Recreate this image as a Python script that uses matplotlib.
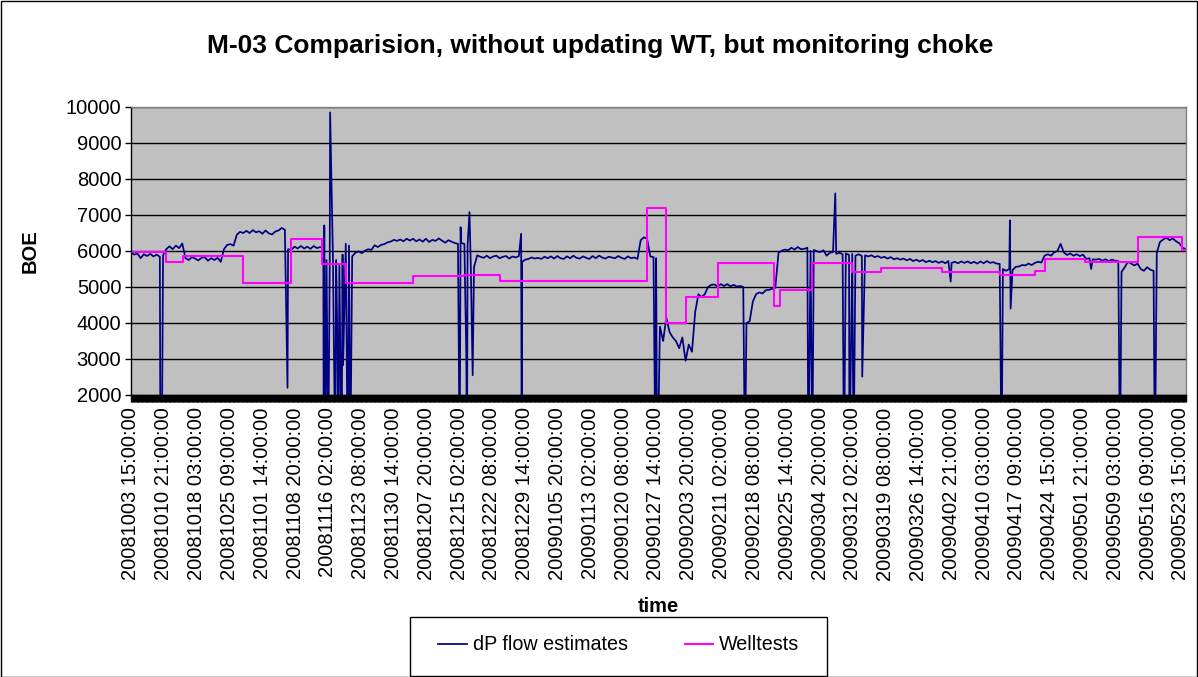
import numpy as np
import matplotlib.pyplot as plt
from matplotlib.patches import Rectangle
from matplotlib.ticker import MultipleLocator
from matplotlib.lines import Line2D

plt.rcParams['font.family'] = ['Liberation Sans', 'DejaVu Sans']

# x axis: hours since 20081003 15:00, one label every 174 h
label_step = 174
tick_labels = [
    "20081003 15:00:00", "20081010 21:00:00", "20081018 03:00:00", "20081025 09:00:00",
    "20081101 14:00:00", "20081108 20:00:00", "20081116 02:00:00", "20081123 08:00:00",
    "20081130 14:00:00", "20081207 20:00:00", "20081215 02:00:00", "20081222 08:00:00",
    "20081229 14:00:00", "20090105 20:00:00", "20090113 02:00:00", "20090120 08:00:00",
    "20090127 14:00:00", "20090203 20:00:00", "20090211 02:00:00", "20090218 08:00:00",
    "20090225 14:00:00", "20090304 20:00:00", "20090312 02:00:00", "20090319 08:00:00",
    "20090326 14:00:00", "20090402 21:00:00", "20090410 03:00:00", "20090417 09:00:00",
    "20090424 15:00:00", "20090501 21:00:00", "20090509 03:00:00", "20090516 09:00:00",
    "20090523 15:00:00",
]

# dP flow estimates, one value every 17 h
dp_step = 17
dp_values = [
    5950, 5900, 5930, 5800, 5910, 5860, 5920, 5850, 5900, 5840,
    5880, 6050, 6130, 6050, 6150, 6080, 6210, 5800, 5750, 5830,
    5790, 5740, 5810, 5830, 5730, 5800, 5750, 5810, 5700, 6050,
    6170, 6190, 6150, 6450, 6530, 6500, 6560, 6500, 6580, 6520,
    6550, 6480, 6570, 6490, 6460, 6540, 6570, 6640, 6590, 6050,
    6030, 6120, 6070, 6140, 6070, 6120, 6060, 6140, 6080, 6110,
    6080, 5750, 5720, 5800, 5750, 5600, 5900, 6200, 6150, 5850,
    5950, 5990, 5940, 6010, 6050, 6030, 6160, 6110, 6170, 6190,
    6240, 6260, 6310, 6280, 6320, 6270, 6340, 6290, 6340, 6270,
    6320, 6260, 6340, 6250, 6310, 6280, 6350, 6290, 6230, 6300,
    6260, 6220, 6200, 6220, 6200, 6150, 5600, 5550, 5880, 5840,
    5810, 5870, 5800, 5850, 5870, 5800, 5840, 5860, 5790, 5850,
    5820, 5860, 5700, 5760, 5780, 5820, 5790, 5810, 5780, 5840,
    5800, 5850, 5790, 5860, 5800, 5780, 5850, 5800, 5870, 5810,
    5790, 5850, 5810, 5780, 5860, 5800, 5870, 5820, 5790, 5840,
    5820, 5800, 5860, 5810, 5780, 5850, 5800, 5820, 5780, 6300,
    6380, 6340, 5850, 5830, 2300, 3900, 3500, 4150, 3750, 3600,
    3500, 3300, 3600, 2950, 3400, 3200, 4300, 4800, 4720, 4800,
    5000, 5060, 5070, 5010, 5080, 5030, 5080, 5020, 5060, 5010,
    5030, 5000, 4000, 4050, 4600, 4800, 4850, 4820, 4910, 4920,
    4950, 4980, 5950, 6010, 6040, 6020, 6090, 6040, 6110, 6050,
    6060, 6090, 6000, 6030, 5990, 5970, 6020, 5870, 5950, 5970,
    5920, 5950, 5910, 5930, 5890, 5920, 5870, 5910, 5860, 5880,
    5850, 5880, 5830, 5860, 5810, 5840, 5790, 5830, 5770, 5800,
    5760, 5790, 5740, 5780, 5720, 5760, 5710, 5750, 5690, 5730,
    5690, 5720, 5670, 5710, 5660, 5720, 5670, 5700, 5660, 5710,
    5670, 5710, 5660, 5700, 5650, 5710, 5660, 5720, 5670, 5690,
    5650, 5640, 5500, 5450, 5500, 5470, 5560, 5570, 5610, 5600,
    5650, 5610, 5670, 5700, 5680, 5870, 5910, 5870, 5960, 6000,
    6200, 5960, 5890, 5930, 5870, 5910, 5860, 5900, 5780, 5800,
    5770, 5760, 5780, 5730, 5770, 5720, 5760, 5730, 5720, 5420,
    5550, 5700, 5650, 5600, 5650, 5500, 5450, 5550, 5480, 5450,
    5950, 6250, 6320, 6370, 6300, 6350, 6270, 6220, 6100, 6050, 6070,
]

# short spikes / dropouts in the dP estimates (hour, value)
spike_hours = [156, 163, 830, 1022, 1025, 1030, 1046, 1056, 1083, 1095, 1100,
               1117, 1125, 1149, 1163, 1743, 1748, 1778, 1782, 1795, 1812,
               2069, 2072, 2781, 2785, 2793, 3256, 3592, 3613, 3735, 3781,
               3810, 3832, 3878, 4347, 4617, 4661, 4665, 5092, 5245, 5430]
spike_values = [0, 0, 2200, 0, 6710, 0, 0, 9850, 0, 3380, 0,
                0, 2830, 0, 0, 0, 6660, 3160, 0, 7080, 2550,
                6480, 0, 0, 5800, 0, 0, 0, 0, 7600, 0,
                0, 0, 2510, 5150, 0, 6850, 4400, 5500, 0, 0]

# welltest results (start hour of each test, BOE)
wt_hours = [0, 185, 277, 595, 850, 1015, 1142, 1493, 1768, 1955, 2737, 2839,
            2941, 3111, 3410, 3443, 3613, 3825, 3978, 4301, 4607, 4794, 4845,
            5058, 5338, 5576, 5595]
wt_values = [5970, 5690, 5860, 5110, 6330, 5630, 5110, 5300, 5320, 5170, 7200, 3990,
             4720, 5660, 4470, 4910, 5660, 5420, 5520, 5420, 5340, 5440, 5770,
             5690, 6400, 6040, 6040]

dp_hours = np.arange(len(dp_values)) * dp_step
all_h = np.concatenate([dp_hours, spike_hours])
all_v = np.concatenate([dp_values, spike_values])
order = np.argsort(all_h, kind='stable')

W, H = 1198, 677
fig = plt.figure(figsize=(W / 100, H / 100), dpi=100)
ax = fig.add_axes([131 / W, 1 - 395 / H, (1186 - 131) / W, (395 - 107) / H])
ax.set_facecolor('#C0C0C0')

ax.plot(all_h[order], all_v[order], color='#000080', lw=1.25, label='dP flow estimates')
ax.plot(wt_hours, wt_values, color='#FF00FF', lw=1.5, drawstyle='steps-post', label='Welltests')

ax.set_xlim(0, 5595)
ax.set_ylim(2000, 10000)
ax.set_yticks(range(2000, 10001, 1000))
ax.yaxis.grid(True, color='black', lw=1.0)
ax.set_axisbelow(True)

ax.set_xticks(np.arange(len(tick_labels)) * label_step)
ax.set_xticklabels(tick_labels, rotation=90, fontsize=14.5)
ax.xaxis.set_minor_locator(MultipleLocator(label_step / 40))
ax.tick_params(axis='x', which='both', direction='out', length=5, width=1.0,
               color='black', pad=4)
ax.tick_params(axis='y', direction='out', length=4, width=1.0, labelsize=14.5, pad=3)

for s in ['top', 'right']:
    ax.spines[s].set_color('#808080')
    ax.spines[s].set_linewidth(1.0)
for s in ['left', 'bottom']:
    ax.spines[s].set_color('black')
    ax.spines[s].set_linewidth(1.0)

ax.set_ylabel('BOE', fontsize=14.5, fontweight='bold', va='center')
ax.yaxis.set_label_coords(-0.096, 0.5)
ax.set_xlabel('time', fontsize=14.5, fontweight='bold', va='center')
ax.xaxis.set_label_coords(0.5, -0.736)

fig.text(600 / W, 1 - 46 / H, 'M-03 Comparision, without updating WT, but monitoring choke',
         ha='center', va='center', fontsize=19, fontweight='bold')

# legend with a square frame
fig.patches.append(Rectangle((410 / W, 1 / H), (827 - 410) / W, (676 - 617) / H,
                             transform=fig.transFigure, fill=False,
                             edgecolor='black', lw=1.0))
handles = [Line2D([], [], color='#000080', lw=1.25), Line2D([], [], color='#FF00FF', lw=1.5)]
fig.legend(handles, ['dP flow estimates', 'Welltests'], loc='center left',
           bbox_to_anchor=(438 / W, 1 - 645 / H), ncol=2, frameon=False,
           fontsize=14.2, borderpad=0, borderaxespad=0, handlelength=1.45,
           handletextpad=0.3, columnspacing=2.9)

# outer chart border
fig.patches.append(Rectangle((0.5 / W, 0.5 / H), (W - 1.5) / W, (H - 1.5) / H,
                             transform=fig.transFigure, fill=False,
                             edgecolor='black', lw=1.0))

fig.savefig('out.png', dpi=100)
